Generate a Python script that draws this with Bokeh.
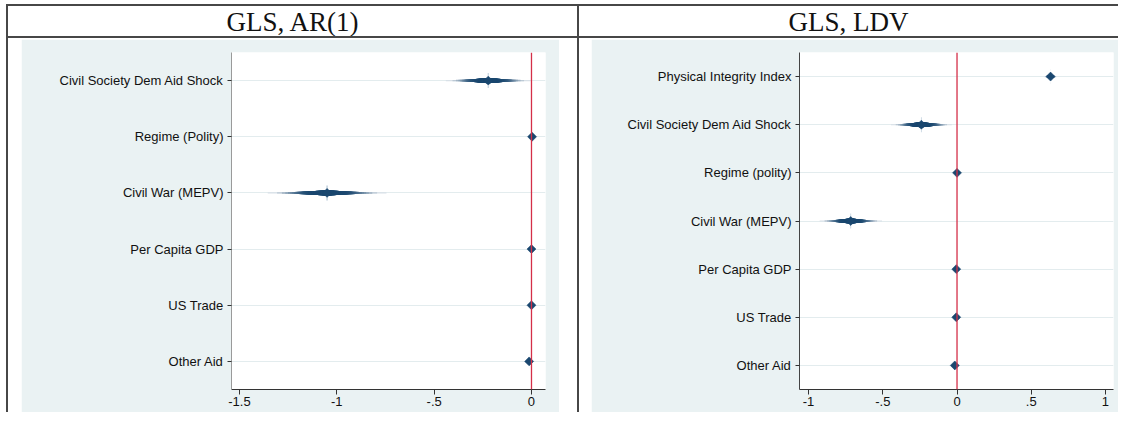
import math
from bokeh.plotting import figure
from bokeh.models import ColumnDataSource, FactorRange, Range1d, FixedTicker, Span, Div, Spacer
from bokeh.layouts import row, column
from bokeh.embed import file_html
from bokeh.resources import INLINE

# ---------------- data ----------------
titles = ["GLS, AR(1)", "GLS, LDV"]

ar1_labels = ["Civil Society Dem Aid Shock", "Regime (Polity)", "Civil War (MEPV)",
              "Per Capita GDP", "US Trade", "Other Aid"]
ar1_coef = [-0.222, 0.003, -1.050, 0.000, 0.000, -0.012]
ar1_lo = [-0.440, -0.004, -1.355, -0.004, -0.004, -0.020]
ar1_hi = [-0.004, 0.010, -0.745, 0.004, 0.004, -0.004]

ldv_labels = ["Physical Integrity Index", "Civil Society Dem Aid Shock", "Regime (polity)",
              "Civil War (MEPV)", "Per Capita GDP", "US Trade", "Other Aid"]
ldv_coef = [0.630, -0.240, 0.000, -0.716, -0.005, -0.005, -0.015]
ldv_lo = [0.590, -0.445, -0.004, -0.925, -0.010, -0.010, -0.022]
ldv_hi = [0.670, -0.035, 0.004, -0.505, 0.000, 0.000, -0.008]

ar1_ticks = [-1.5, -1.0, -0.5, 0.0]
ar1_tick_labels = ["-1.5", "-1", "-.5", "0"]
ldv_ticks = [-1.0, -0.5, 0.0, 0.5, 1.0]
ldv_tick_labels = ["-1", "-.5", "0", ".5", "1"]

# ---------------- styling ----------------
NAVY = (26, 71, 111)
BG = "#EAF2F3"
GRID = "#E3ECEE"
BORDER = "#474747"
RED = "#D42F48"
FONT = "Liberation Sans"
FIG_H = 373


def mix(t):
    return "#%02x%02x%02x" % tuple(round(255 + (c - 255) * t) for c in NAVY)


def zq(level):
    # inverse standard normal for a two-sided confidence level (percent)
    p = 0.5 + level / 200.0
    a, b = 0.0, 6.0
    for _ in range(60):
        m = (a + b) / 2
        if 0.5 * (1 + math.erf(m / math.sqrt(2))) < p:
            a = m
        else:
            b = m
    return (a + b) / 2


LEVELS = list(range(99, 0, -2))
ZMAX = zq(99)


def coef_fig(labels, coef, lo, hi, xr, ticks, tick_labels, width, left_border, frame_w, yaxis_color):
    factors = list(reversed(labels))
    p = figure(width=width, height=FIG_H, y_range=FactorRange(factors=factors),
               x_range=Range1d(xr[0], xr[1]), output_backend="svg", toolbar_location=None,
               min_border_left=left_border, min_border_right=width - left_border - frame_w,
               min_border_top=13, min_border_bottom=23, margin=(1, 0, 0, 0))
    p.border_fill_color = BG
    p.background_fill_color = "white"
    p.outline_line_color = None

    p.xgrid.grid_line_color = None
    p.ygrid.grid_line_color = GRID
    p.ygrid.grid_line_width = 1.2

    p.xaxis.ticker = FixedTicker(ticks=ticks)
    p.xaxis.major_label_overrides = {t: s for t, s in zip(ticks, tick_labels)}
    p.xaxis.minor_tick_line_color = None
    p.xaxis.major_tick_in = 0
    p.xaxis.major_tick_out = 5
    p.xaxis.axis_line_color = "#333333"
    p.xaxis.major_tick_line_color = "#333333"
    p.xaxis.major_label_text_font = FONT
    p.xaxis.major_label_text_font_size = "13px"
    p.xaxis.major_label_text_color = "#111111"
    p.xaxis.major_label_standoff = 2

    p.yaxis.major_tick_in = 0
    p.yaxis.major_tick_out = 4
    p.yaxis.axis_line_color = yaxis_color
    p.yaxis.major_tick_line_color = "#333333"
    p.yaxis.major_label_text_font = FONT
    p.yaxis.major_label_text_font_size = "13px"
    p.yaxis.major_label_text_color = "#111111"
    p.yaxis.major_label_standoff = 4

    # smoothed confidence spindles: nested intervals at many levels
    x0, x1, ys, lws, cols = [], [], [], [], []
    for L in LEVELS:
        f = zq(L) / ZMAX
        u = L / 100.0
        lw = 1.0 + 4.6 * (1 - u) ** 0.8
        t = 1 - 0.9 * u ** 8
        for lab, c, l, h in zip(labels, coef, lo, hi):
            x0.append(c - (c - l) * f)
            x1.append(c + (h - c) * f)
            ys.append(lab)
            lws.append(lw)
            cols.append(mix(t))
    src = ColumnDataSource(dict(x0=x0, x1=x1, y=ys, lw=lws, color=cols))

    # faint vertical spike from the narrowest levels
    sx0, sx1, sy = [], [], []
    for lab, c, l, h in zip(labels, coef, lo, hi):
        f = zq(3) / ZMAX
        sx0.append(c - (c - l) * f)
        sx1.append(c + (h - c) * f)
        sy.append(lab)
    p.segment(x0=sx0, y0=sy, x1=sx1, y1=sy, line_width=15, line_color="#C9D6E1", line_cap="butt")

    p.segment(x0="x0", y0="y", x1="x1", y1="y", line_width="lw", line_color="color",
              line_cap="butt", source=src)

    p.add_layout(Span(location=0, dimension="height", line_color=RED, line_width=1.3))

    p.scatter(x=coef, y=labels, marker="square", angle=math.pi / 4, size=6.3,
              fill_color=mix(1), line_color=mix(1), line_width=0.6)
    return p


left = coef_fig(ar1_labels, ar1_coef, ar1_lo, ar1_hi, (-1.541, 0.072),
                ar1_ticks, ar1_tick_labels, 538, 210, 314, "#9a9a9a")
right = coef_fig(ldv_labels, ldv_coef, ldv_lo, ldv_hi, (-1.061, 1.054),
                 ldv_ticks, ldv_tick_labels, 527, 208, 314, "#444444")


def line(w, h):
    return Div(text="", width=w, height=h, margin=0, styles={"background-color": BORDER})


def gap(w, h):
    return Spacer(width=w, height=h, margin=0)


def head(text, w):
    html = ('<div style="width:%dpx;height:30px;font-family:\'Liberation Serif\';font-size:27px;'
            'line-height:30px;text-align:center;color:#111;padding-top:1px;">%s</div>') % (w, text)
    return Div(text=html, width=w, height=30, margin=0)


top_line = row(gap(6, 2), line(1112, 2), spacing=0, margin=0)
header = row(gap(6, 30), line(2, 30), head(titles[0], 569), line(2, 30), head(titles[1], 539),
             spacing=0, margin=0)
mid_line = row(gap(6, 2), line(1112, 2), spacing=0, margin=0)
body = row(gap(6, 374), line(2, 374), gap(13, 374), left, gap(18, 374), line(2, 374),
           gap(12, 374), right, spacing=0, margin=0)
page = column(gap(1118, 4), top_line, header, mid_line, body, spacing=0, margin=0)

open("out.html", "w").write(file_html(page, INLINE))
